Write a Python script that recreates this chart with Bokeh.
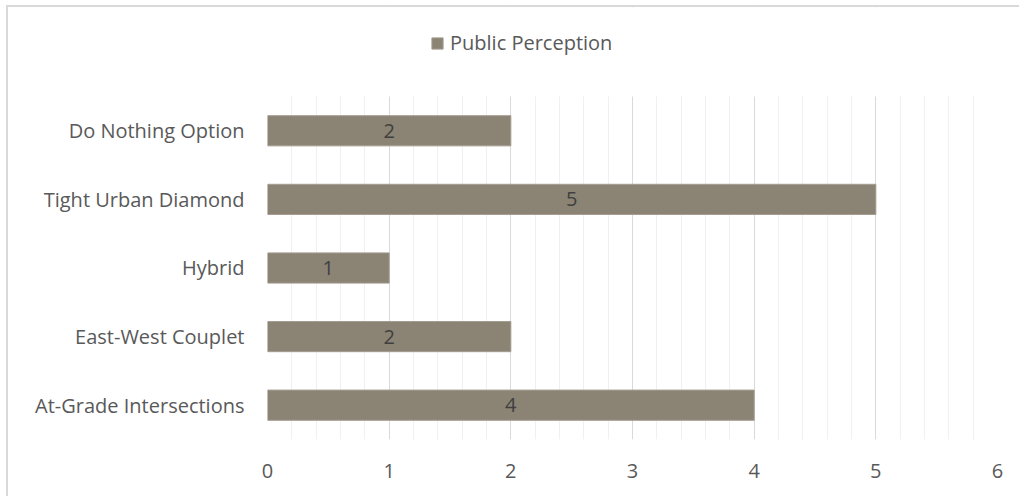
from bokeh.plotting import figure
from bokeh.models import Range1d, SingleIntervalTicker, FixedTicker, Legend, LegendItem, ColumnDataSource, BoxAnnotation
from bokeh.layouts import column
from bokeh.embed import file_html
from bokeh.resources import INLINE

categories = ["At-Grade Intersections", "East-West Couplet", "Hybrid", "Tight Urban Diamond", "Do Nothing Option"]
values = [4, 2, 1, 5, 2]
series_name = "Public Perception"

FONT = "Open Sans"
TXT = "#595959"
FS = "20px"

ypos = list(range(len(categories)))
src = ColumnDataSource(dict(y=ypos, val=values, mid=[v / 2 for v in values], lab=[str(v) for v in values]))

p = figure(y_range=Range1d(-0.5, len(categories) - 0.5 + 1.297), x_range=Range1d(0, 6),
           width=1011, height=489, output_backend="svg", toolbar_location=None,
           min_border_left=259, min_border_right=22, min_border_top=0, min_border_bottom=57)

r = p.hbar(y="y", right="val", left=0, height=0.44, source=src,
           fill_color="#8b8374", line_color="#a39c90", line_width=1)
p.text(x="mid", y="y", text="lab", source=src, text_align="center", text_baseline="middle",
       text_color="#404040", text_font_size=FS, text_font={"value": FONT})

# blank region above the categories (legend area)
p.add_layout(BoxAnnotation(bottom=len(categories) - 0.5, fill_color="white", fill_alpha=1, line_color=None))

p.xaxis.ticker = SingleIntervalTicker(interval=1, num_minor_ticks=5)
p.yaxis.ticker = FixedTicker(ticks=ypos)
p.yaxis.major_label_overrides = {i: c for i, c in zip(ypos, categories)}
p.xgrid.grid_line_color = "#d9d9d9"
p.xgrid.minor_grid_line_color = "#f0f0f0"
p.ygrid.visible = False
p.outline_line_color = None

for ax in (p.xaxis[0], p.yaxis[0]):
    ax.axis_line_color = None
    ax.major_tick_line_color = None
    ax.minor_tick_line_color = None
    ax.major_label_text_font = FONT
    ax.major_label_text_font_size = FS
    ax.major_label_text_color = TXT
p.xaxis.major_label_standoff = 18
p.yaxis.major_label_standoff = 17

legend = Legend(items=[LegendItem(label=series_name, renderers=[r])], location=(163, 383),
                orientation="horizontal", border_line_color=None, background_fill_alpha=0,
                label_text_font=FONT, label_text_font_size=FS, label_text_color=TXT,
                glyph_width=14, glyph_height=14, padding=0, margin=0, label_standoff=6)
p.add_layout(legend, "center")

layout = column(p, styles={"border-left": "2px solid #d9d9d9", "border-top": "2px solid #d9d9d9",
                           "margin-left": "6px", "margin-top": "5px"})

open("out.html", "w").write(file_html(layout, INLINE))
